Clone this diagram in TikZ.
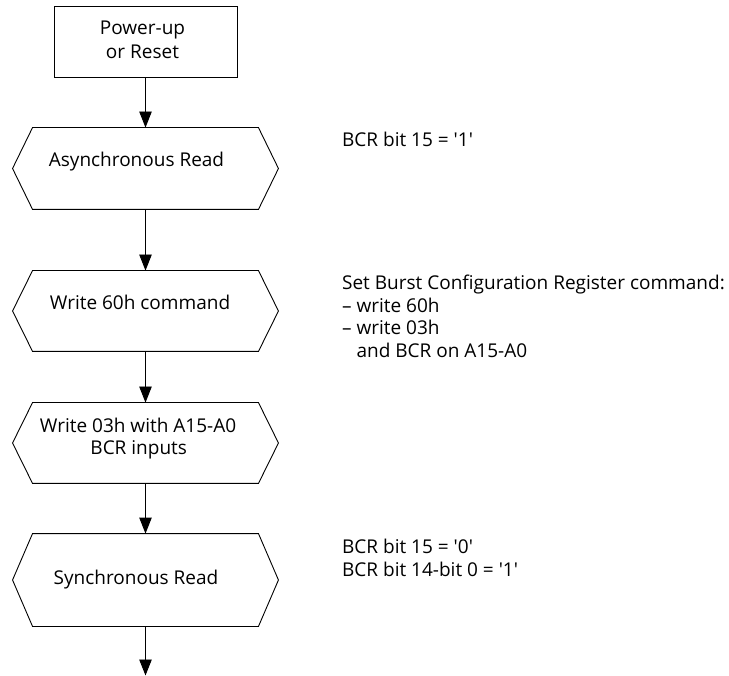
\documentclass[tikz,border=0pt]{standalone}
\usepackage{fontspec}
\setmainfont{Open Sans}
\usetikzlibrary{arrows.meta}
\newcommand\fs{\fontsize{19}{23}\selectfont}
\newcommand\q{\textquotesingle}
\newcommand\hexat[1]{\draw ([xshift=20pt]#1.north west) -- ([xshift=-20pt]#1.north east) -- (#1.east) -- ([xshift=-20pt]#1.south east) -- ([xshift=20pt]#1.south west) -- (#1.west) -- cycle;}
\begin{document}
\begin{tikzpicture}[x=1pt,y=-1pt, line width=0.9pt,
  ltxt/.style={inner sep=0pt, font=\fs, anchor=base west},
  ctxt/.style={inner sep=0pt, font=\fs, anchor=base},
  frame/.style={draw=none, inner sep=0pt, minimum width=265pt},
  flow/.style={-{Triangle[width=12.5pt,length=16pt]}}]
\useasboundingbox (0,0) rectangle (729,676);
% start box
\node[draw, inner sep=0pt, minimum width=183pt, minimum height=71pt] (reset) at (145.5,41.5) {};
\node[ctxt] (reset1) at (142.5,35) {Power-up};
\node[ctxt] (reset2) at (142.5,58.3) {or Reset};
% hexagons
\node[frame, minimum height=81pt] (h1) at (145.5,168.5) {};
\node[frame, minimum height=80pt] (h2) at (145.5,311) {};
\node[frame, minimum height=80pt] (h3) at (145.5,443) {};
\node[frame, minimum height=92pt] (h4) at (145.5,580) {};
\hexat{h1}\hexat{h2}\hexat{h3}\hexat{h4}
\node[ctxt] (t1) at (136.5,166.7) {Asynchronous Read};
\node[ctxt] (t2) at (140,310) {Write 60h command};
\node[ctxt] (t3a) at (138,433) {Write 03h with A15-A0};
\node[ctxt] (t3b) at (138.7,455) {BCR inputs};
\node[ctxt] (t4) at (136,584) {Synchronous Read};
% connectors
\coordinate (end) at (145.5,675.5);
\draw[flow] (reset) -- (h1);
\draw[flow] (h1) -- (h2);
\draw[flow] (h2) -- (h3);
\draw[flow] (h3) -- (h4);
\draw[flow] (h4) -- (end);
% notes
\node[ltxt] (n1) at (341.7,147) {BCR bit 15 = \q1\q};
\node[ltxt] (n2a) at (341.7,290) {Set Burst Configuration Register command:};
\node[ltxt] (n2b) at (341.7,312.7) {– write 60h};
\node[ltxt] (n2c) at (341.7,335) {– write 03h};
\node[ltxt] (n2d) at (341.7,357.5) {\phantom{– }and BCR on A15-A0};
\node[ltxt] (n3a) at (341.7,553) {BCR bit 15 = \q0\q};
\node[ltxt] (n3b) at (341.7,576) {BCR bit 14-bit 0 = \q1\q};
\end{tikzpicture}
\end{document}
